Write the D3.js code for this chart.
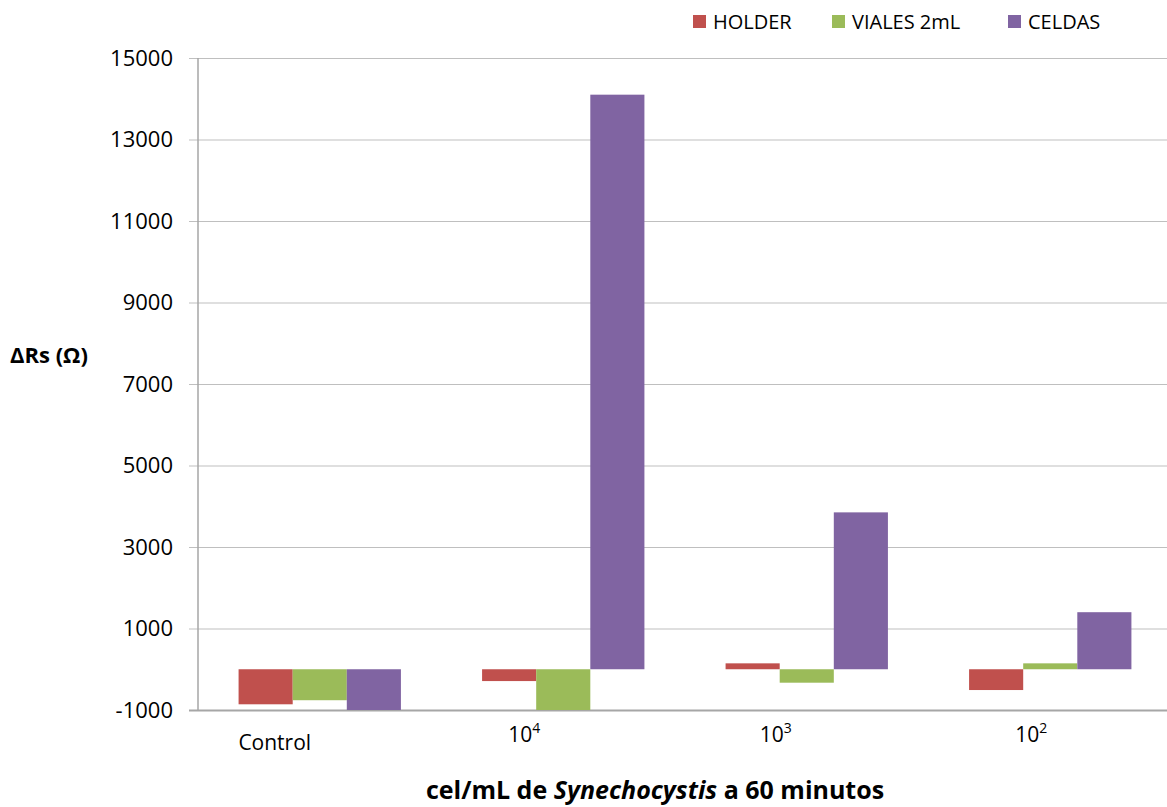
<!DOCTYPE html>
<html>
<head>
<meta charset="utf-8">
<script src="https://cdn.jsdelivr.net/npm/d3@7"></script>
<style>
  body { margin: 0; background: #fff; overflow: hidden; }
  text { font-family: "Open Sans", "Noto Sans", sans-serif; fill: #000; }
</style>
</head>
<body>
<div id="chart"></div>
<script>
// chart values
const categories = ["Control", "10^4", "10^3", "10^2"];
const seriesNames = ["HOLDER", "VIALES 2mL", "CELDAS"];
const holderValues = [-860, -290, 145, -510];
const vialesValues = [-760, -1000, -330, 145];
const celdasValues = [-1000, 14100, 3850, 1400];
const yTickValues = [-1000, 1000, 3000, 5000, 7000, 9000, 11000, 13000, 15000];
const seriesColors = ["#C0504D", "#9BBB59", "#8064A2"];

const width = 1167, height = 807;
// the plot runs a little past the right edge of the picture, like the original
const margin = {top: 58, left: 198};
const plotW = 974;
const plotH = 652;

// category labels sit left of their group centre in the original
const labelShift = [-45, -39, -31, -19];

const svg = d3.select("#chart").append("svg")
    .attr("width", width)
    .attr("height", height);

const g = svg.append("g")
    .attr("transform", "translate(" + margin.left + "," + margin.top + ")");

const yScale = d3.scaleLinear().domain([-1000, 15000]).range([plotH, 0]).clamp(true);
const x0 = d3.scaleBand().domain(categories).range([0, plotW]);
// excel style gap width 50%
const x1 = d3.scaleBand().domain(seriesNames)
    .range([x0.bandwidth() / 6, x0.bandwidth() * 5 / 6]);

// gridlines + tick labels
const yAxisG = g.append("g")
    .attr("class", "yAxisG")
    .attr("transform", "translate(-9,0)")
    .call(d3.axisLeft(yScale).tickValues(yTickValues).tickSize(-(plotW + 9)).tickPadding(16).tickFormat((d) => String(d)));
yAxisG.select(".domain").remove();
yAxisG.selectAll(".tick line")
    .attr("stroke", (d) => d === -1000 ? "#A6A6A6" : "#BFBFBF")
    .attr("stroke-width", (d) => d === -1000 ? 2 : 1.2);
yAxisG.selectAll(".tick text")
    .style("font-size", "22px")
    .attr("fill", "#000");

// vertical axis line
g.append("line")
    .attr("x1", 0).attr("x2", 0)
    .attr("y1", 0).attr("y2", plotH)
    .attr("stroke", "#A6A6A6")
    .attr("stroke-width", 1.5);

// bars
const table = categories.map((c, i) => ({
    cat: c,
    values: [holderValues[i], vialesValues[i], celdasValues[i]]
}));

const groups = g.selectAll(".catG")
    .data(table)
    .join("g")
    .attr("class", "catG")
    .attr("transform", (d) => "translate(" + x0(d.cat) + ",0)");

groups.selectAll("rect")
    .data((d) => d.values.map((v, j) => ({name: seriesNames[j], value: v, color: seriesColors[j]})))
    .join("rect")
    .attr("x", (d) => x1(d.name))
    .attr("width", x1.bandwidth())
    .attr("y", (d) => Math.min(yScale(0), yScale(d.value)))
    .attr("height", (d) => Math.abs(yScale(d.value) - yScale(0)))
    .attr("fill", (d) => d.color);

// category labels
const labelG = g.append("g").attr("class", "xLabels");
categories.forEach((c, i) => {
    const cx = x0(c) + x0.bandwidth() / 2 + labelShift[i];
    const t = labelG.append("text")
        .attr("x", cx)
        .attr("text-anchor", "middle")
        .style("font-size", "21px");
    if (c.indexOf("^") > 0) {
        const parts = c.split("^");
        t.attr("y", plotH + 32);
        t.append("tspan").text(parts[0]);
        t.append("tspan").attr("dy", -9).style("font-size", "14px").text(parts[1]);
    } else {
        t.attr("y", plotH + 40).text(c);
    }
});

// axis titles
svg.append("text")
    .attr("x", 10)
    .attr("y", 363)
    .style("font-size", "22px")
    .style("font-weight", "bold")
    .text("ΔRs (Ω)");

const xTitle = svg.append("text")
    .attr("x", 655)
    .attr("y", 799)
    .attr("text-anchor", "middle")
    .style("font-size", "25px")
    .style("font-weight", "bold");
xTitle.append("tspan").text("cel/mL de ");
xTitle.append("tspan").style("font-style", "italic").text("Synechocystis");
xTitle.append("tspan").text(" a 60 minutos");

// legend
const legendX = [693, 832, 1008];
const legend = svg.append("g").attr("class", "legend");
seriesNames.forEach((name, i) => {
    legend.append("rect")
        .attr("x", legendX[i]).attr("y", 15)
        .attr("width", 13).attr("height", 13)
        .attr("fill", seriesColors[i]);
    legend.append("text")
        .attr("x", legendX[i] + 20).attr("y", 29)
        .style("font-size", "20px")
        .text(name);
});
</script>
</body>
</html>
